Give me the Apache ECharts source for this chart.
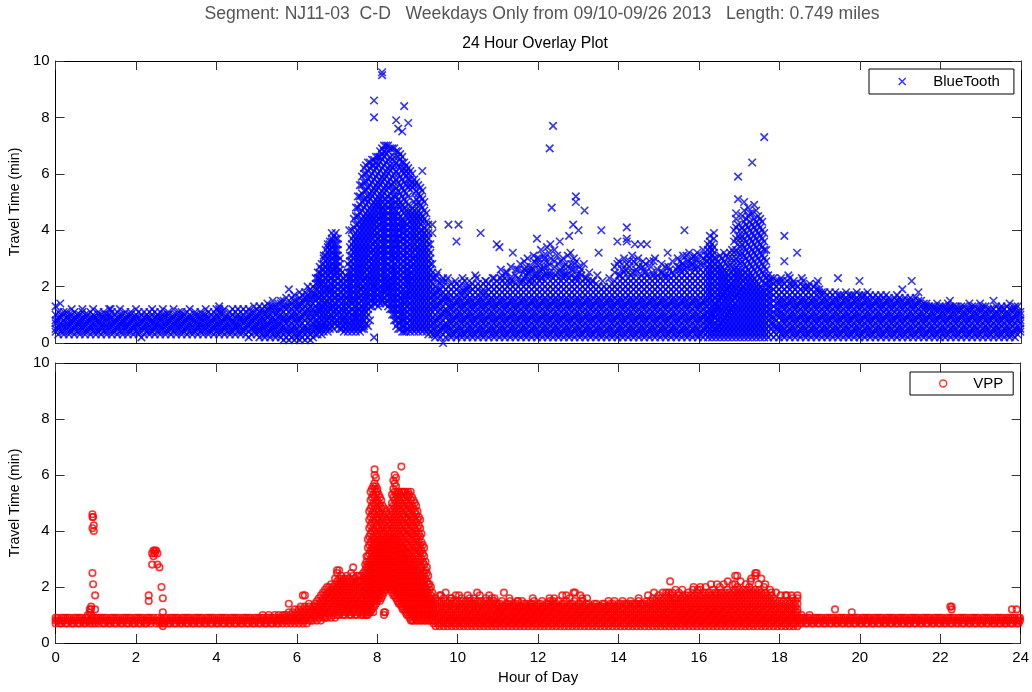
<!DOCTYPE html>
<html>
<head>
<meta charset="utf-8">
<script src="https://cdn.jsdelivr.net/npm/echarts@6/dist/echarts.min.js"></script>
<style>
  html, body { margin: 0; padding: 0; background: #fff; }
  #chart { width: 1032px; height: 692px; }
</style>
</head>
<body>
<div id="chart"></div>
<script>
// Readings tables: one row per time of day, "minute: travel times in tenths of a minute"

const titleText = 'Segment: NJ11-03  C-D   Weekdays Only from 09/10-09/26 2013   Length: 0.749 miles';
const subtitleText = '24 Hour Overlay Plot';
const hourTicks = [0, 2, 4, 6, 8, 10, 12, 14, 16, 18, 20, 22, 24];
const minuteTicks = [0, 2, 4, 6, 8, 10];

// ---- BlueTooth ----
const blueNight = `
0: 4 5 7 8 10 13
4: 3 5 6 8 9 11
7: 14
8: 4 6 7 9 10
12: 3 4 6 8 10 11
16: 5 6 7 9 11
20: 3 4 6 7 9 10
24: 4 5 7 8 10 12
28: 3 5 6 8 9 11
32: 4 6 7 9 10
36: 3 4 6 7 8 10
40: 5 6 8 9 11 12
44: 3 4 6 7 9 10
48: 4 5 7 8 10
52: 3 5 6 8 9 11
56: 4 6 7 9 10 12
60: 3 4 6 8 9
64: 4 5 7 8 10 11
68: 3 5 6 7 9 10
72: 4 6 7 9 11
76: 3 4 6 8 9 10
80: 5 6 7 9 10 12
82: 12
84: 3 4 6 7 9 11
88: 4 5 7 8 10
92: 3 5 6 8 9 11
96: 4 6 7 9 10 12
100: 3 4 6 7 8 10
104: 5 6 8 9 11
108: 3 4 6 7 9 10
112: 4 5 7 8 10 11
116: 3 5 6 8 9
120: 4 6 7 9 10 12
124: 3 4 6 7 9 11
128: 2 5 7 8 10
132: 3 5 6 8 9 11
136: 4 6 7 9 10
140: 3 4 6 8 9 11
144: 4 5 7 8 10 12
148: 3 5 6 7 9 11
152: 4 6 7 9 10
156: 3 4 6 8 9 11
160: 5 6 7 9 10 12
164: 3 4 6 7 9 10
168: 4 5 7 8 10 11
172: 3 5 6 8 9
176: 4 6 7 9 10 12
180: 3 4 6 7 8 10
184: 5 6 8 9 11
188: 3 4 6 7 9 10 11
192: 4 5 7 8 10
196: 3 5 6 8 9 11
200: 4 6 7 9 10 12
204: 3 4 6 8 9
208: 4 5 7 8 10 11
212: 3 5 6 7 9 10
216: 4 6 7 9 11
220: 3 4 6 8 9 10
224: 5 6 7 9 10 12
228: 3 4 6 7 9 11
232: 4 5 7 8 10
236: 3 5 6 8 9 11
240: 4 6 7 9 10 12
244: 3 4 6 7 9 11 12 13
248: 4 5 7 8 10 11
252: 3 5 6 8 9 12
256: 4 6 7 9 10
260: 3 4 6 8 9 11
264: 4 5 7 8 10 12
268: 3 5 6 7 9 11
272: 4 6 7 9 10 12
276: 3 4 6 8 9 11
280: 4 5 7 8 10 12
284: 3 5 6 8 9 11
288: 2 4 6 7 9 10 12
292: 3 5 7 8 10 11
296: 4 5 6 8 9 11 13
300: 3 4 6 7 9 10 12
304: 2 4 5 7 8 10 11 13
308: 3 5 6 8 9 11 12
312: 2 3 5 6 8 10 11 13
316: 3 4 6 7 9 10 12 14
320: 2 4 5 7 8 10 12 13
324: 3 5 6 8 9 11 13 15
328: 2 3 5 6 8 10 11 13
332: 3 4 6 7 9 11 12 14
336: 2 4 5 7 9 10 12 14 15
340: 1 3 5 6 8 9 11 13 15
344: 2 4 5 7 8 10 12 13 16
348: 1 3 4 6 8 9 11 13 14 19
352: 2 4 5 7 9 10 12 14 16
356: 1 3 5 6 8 10 11 13 15 17
360: 2 3 5 7 8 10 12 13 15
364: 1 3 4 6 8 9 11 13 14 16 18
368: 2 4 5 7 9 10 12 14 15 17
372: 1 3 5 6 8 10 11 13 15 16 18
376: 2 4 5 7 9 11 12 14 16 17 20
380: 1 3 4 6 8 9 11 13 14 16 18 19
384: 2 4 6 7 9 11 12 14 16 17 20
388: 3 5 6 8 10 11 13 15 17 19 21 23
`;
const blueMorning = `
391: 3 5 7 8 10 12 14 16 17 19 21 23 25
394: 4 5 7 9 11 12 14 16 18 20 21 23 25 27
397: 3 5 6 8 10 12 13 15 17 19 21 22 24 26 28
400: 4 6 7 9 11 13 14 16 18 20 22 24 26 28 30 31
403: 5 6 8 10 12 14 15 17 19 21 23 25 27 29 31 33
406: 4 6 8 9 11 13 15 17 19 20 22 24 26 28 30 32 34 35
409: 5 7 9 10 12 14 16 18 19 21 23 25 27 29 31 33 35 36
412: 6 8 10 12 13 15 17 19 21 23 25 26 28 30 32 34 36 37 39
415: 5 7 9 11 13 14 16 18 20 22 24 26 27 29 31 33 35 38
418: 7 8 10 12 14 16 18 20 22 24 25 27 29 31 33 35 37 39
421: 6 8 10 11 13 15 17 19 21 23 25 27 29 31 33 35 37
424: 5 7 9 11 13 15 16 18 20 22 24 26 28 30
427: 5 6 8 10 12 14 16 18 20 22 25
430: 4 6 8 9 11 13 15 17 19 21 23
433: 5 7 8 10 12 14 16 18 20 22 24
436: 4 6 8 10 11 13 15 17 19 21 23 25 28
438: 40
439: 5 7 9 11 13 15 17 19 21 23 25 27 29 31 34
442: 4 6 8 10 12 14 15 17 19 21 23 25 27 29 31 33 35 37 40
445: 5 7 9 11 13 15 16 18 20 22 24 26 28 30 32 34 36 38 41 44
448: 4 6 8 9 11 13 15 17 19 21 23 25 27 29 31 33 35 37 39 42 45 48
451: 5 7 9 11 12 14 16 18 20 22 24 26 28 30 32 34 36 38 40 42 45 48 52
454: 4 6 8 10 12 14 16 17 19 21 23 25 27 29 31 33 35 37 39 41 43 46 49 52 56
457: 5 7 9 11 13 15 17 19 20 22 24 26 28 30 32 34 36 38 40 42 44 47 50 53 56 59
460: 5 6 8 10 12 14 16 18 20 22 23 25 27 29 31 33 35 37 39 41 43 45 48 51 54 57 60 62
463: 7 9 11 13 15 17 19 21 23 24 26 28 30 32 34 36 38 40 42 44 46 49 51 54 57 60 63
466: 6 10 12 14 16 18 20 22 24 26 27 29 31 33 35 37 39 41 43 45 47 50 52 55 58 61 64
469: 8 13 15 17 19 21 23 25 27 29 30 32 34 36 38 40 42 44 46 48 51 53 56 59 62 64
472: 13 15 16 18 20 22 24 26 28 30 32 33 35 37 39 41 43 45 47 49 52 54 57 60 63 65
475: 2 14 16 18 20 21 23 25 27 29 31 33 35 36 38 40 42 44 46 48 50 53 55 58 61 63 65 80 86
478: 14 16 18 20 22 24 26 28 30 32 34 36 38 39 41 43 45 47 49 51 54 56 59 62 64 66
481: 13 15 17 19 21 23 25 27 29 31 33 35 37 39 41 42 44 46 48 50 52 55 57 60 63 66
484: 14 16 18 20 22 24 26 28 30 32 34 36 38 40 42 44 45 47 49 51 53 56 58 61 64 66 68
487: 15 17 19 21 23 25 27 29 31 33 35 37 39 41 43 45 47 48 50 52 54 57 59 62 65 67 69 95 96
490: 14 16 18 19 21 23 25 27 29 31 33 35 37 39 41 43 45 47 49 51 53 55 58 60 63 66 68 70
493: 14 15 17 19 21 23 25 27 29 31 33 35 37 39 41 43 45 47 49 51 54 56 59 61 64 67 70
496: 13 15 17 19 20 22 24 26 28 30 32 34 36 38 40 42 44 46 48 50 52 55 57 60 62 65 68 70
499: 12 14 16 18 20 22 23 25 27 29 31 33 35 37 39 41 43 45 47 49 51 53 56 58 61 63 66 69
502: 10 12 14 16 18 20 22 24 26 27 29 31 33 35 37 39 41 43 45 47 49 51 54 56 59 62 65 69
505: 8 10 12 14 16 18 20 22 24 26 28 30 31 33 35 37 39 41 43 45 47 49 52 54 57 60 63 66 69
508: 6 8 10 12 14 16 18 20 22 24 26 28 30 32 34 35 37 39 41 43 45 47 50 52 55 58 61 64 68 79
511: 5 7 9 11 13 15 17 19 21 23 25 27 29 31 33 35 37 38 40 42 44 46 49 51 54 57 60 63 66 68 76
514: 5 7 8 10 12 14 16 18 20 22 24 26 28 30 32 34 36 38 40 41 43 45 48 50 53 56 59 62 65 67
517: 4 6 8 10 11 13 15 17 19 21 23 25 27 29 31 33 35 37 39 41 43 44 47 49 52 55 58 61 64 66 75
520: 4 6 8 10 12 14 15 17 19 21 23 25 27 29 31 33 35 37 39 41 43 46 48 51 54 57 60 62 64 84
523: 4 5 7 9 11 13 15 17 18 20 22 24 26 28 30 32 34 36 38 40 42 45 47 50 53 56 59 61 63
526: 5 7 9 11 13 15 17 19 21 22 24 26 28 30 32 34 36 38 40 42 44 46 49 52 55 58 60 62 78
529: 4 6 8 10 12 14 16 18 20 22 24 25 27 29 31 33 35 37 39 41 43 45 47 56 58 61
532: 5 7 9 11 13 15 17 19 21 23 25 27 28 30 32 34 36 38 40 42 44 46 48 55 57 60
535: 4 6 8 10 12 14 16 18 20 22 24 26 28 30 31 33 35 37 39 41 43 45 47 50 53 56 58
538: 5 7 9 11 13 15 17 19 21 23 25 27 29 31 33 34 36 38 40 42 44 46 49 51 54 57
541: 4 6 8 10 12 14 16 18 20 22 24 26 28 30 32 34 36 37 39 41 43 45 47 50 53 56
544: 5 7 9 11 13 15 17 19 21 23 25 27 29 31 33 35 37 39 40 42 44 46 49 52 55
547: 4 6 8 10 12 14 16 18 20 22 24 26 28 30 32 34 36 38 40 43 45 48 51 54 61
550: 5 7 9 11 13 15 17 19 21 23 25 27 29 31 33 35 37 39 41 44 47 50
553: 4 6 8 10 12 14 16 18 20 22 24 26 28 30 32 34 36 38 40 43 46
556: 3 5 7 9 11 13 15 17 19 21 23 25 27 29 31 33 35 37 39 42
559: 4 6 8 10 12 14 16 18 20 22 24 26 28 30 32 35
562: 3 5 7 9 11 13 15 17 19 21 23 25 28 39 42
`;
const blueDay = `
566: 2 3 5 7 8 10 12 13 15 17 18 20 23
568: 24
570: 3 4 6 8 9 11 13 14 16 18 19 22 25
574: 2 4 5 7 9 10 12 14 15 17 19 21
576: 22
578: 0 3 5 6 8 10 11 13 15 16 18 20 23
582: 2 4 6 7 9 11 12 14 16 17 19 22
585: 23
586: 3 5 6 8 10 11 13 15 16 18 20 42
590: 2 3 5 7 8 10 12 13 15 17 19 21
594: 3 4 6 8 9 11 13 14 16 18 20
596: 22
598: 2 4 5 7 9 10 12 14 15 17 19 21 36
601: 42
602: 3 5 6 8 10 11 13 15 16 18 20
606: 2 3 5 7 8 10 12 13 15 17 18 21
607: 23
610: 3 4 6 8 9 11 13 14 16 18 19 22
614: 2 4 5 7 9 10 12 14 15 17 19 20
617: 22
618: 3 5 6 8 10 11 13 15 16 18 20
622: 2 3 5 7 8 10 12 13 15 17 19 21
626: 3 4 6 8 9 11 13 14 16 18 20 24
628: 23
630: 2 4 5 7 9 10 12 14 15 17 19 21
634: 3 5 6 8 10 11 13 15 16 18 20 39
638: 2 3 5 7 8 10 12 13 15 17 18 21
641: 22
642: 3 4 6 8 9 11 13 14 16 18 20 22
646: 2 4 5 7 9 10 12 14 15 17 19 21
650: 3 5 6 8 10 11 13 15 16 18 20
652: 23
654: 2 3 5 7 8 10 12 13 15 17 19 21 23
658: 3 4 6 8 9 11 13 14 16 18 20 22 35
662: 2 4 5 7 9 10 12 14 15 17 19 21 34
664: 23 26
666: 3 5 6 8 10 11 13 15 16 18 20 22 24
670: 2 3 5 7 8 10 12 13 15 17 19 21 23
672: 25
674: 3 4 6 8 9 11 13 14 16 18 20 22 25
678: 2 4 5 7 9 10 12 14 15 17 19 21 23
679: 22 27
682: 3 5 6 8 10 11 13 15 16 18 20 22 32
686: 2 3 5 7 8 10 12 13 15 17 19 21 24
687: 26
690: 3 4 6 8 9 11 13 14 16 18 20 23 26
693: 28
694: 2 4 5 7 9 10 12 14 15 17 19 21 22
698: 3 5 6 8 10 11 13 15 16 18 20 22 25
699: 23 26 29
702: 2 3 5 7 8 10 12 13 15 17 19 21 24 27
704: 25 30
706: 3 4 6 8 9 11 13 14 16 18 20 22 25
709: 22 27
710: 2 4 5 7 9 10 12 14 15 17 19 21 23 26
713: 26 31
714: 3 5 6 8 10 11 13 15 16 18 20 22 24 29
717: 24 28
718: 2 3 5 7 8 10 12 13 15 17 19 21 23 30 37
721: 30 26
722: 3 4 6 8 9 11 13 14 16 18 20 22 25 28
724: 23 33
726: 2 4 5 7 9 10 12 14 15 17 19 21 23 26
728: 27 31
730: 3 5 6 8 10 11 13 15 16 18 20 22 24 30
731: 25 29
733: 34
734: 2 3 5 7 8 10 12 13 15 17 19 21 24 27
736: 28 32
737: 69
738: 3 4 6 8 9 11 13 14 16 18 20 22 25 35
739: 24 30
740: 48
742: 2 4 5 7 9 10 12 14 15 17 19 21 23 77
744: 27 29 33
746: 3 5 6 8 10 11 13 15 16 18 20 22 24
748: 25 31
750: 2 3 5 7 8 10 12 13 15 17 19 21 23 28
752: 36
753: 26 29
754: 3 4 6 8 9 11 13 14 16 18 20 22 25
757: 23 30
758: 2 4 5 7 9 10 12 14 15 17 19 21 24 27
761: 28 25
762: 3 5 6 8 10 11 13 15 16 18 20 22 24
764: 31 27
766: 2 3 5 7 8 10 12 13 15 17 19 21 23 38
768: 32
769: 24 28
770: 3 4 6 8 9 11 13 14 16 18 20 22 26
772: 42
773: 26 30
774: 2 4 5 7 9 10 12 14 15 17 19 21 23 28
776: 50 52
777: 23 29
778: 3 5 6 8 10 11 13 15 16 18 20 22 24
780: 40
781: 27
782: 2 3 5 7 8 10 12 13 15 17 19 21 25
784: 24 26
786: 3 4 6 8 9 11 13 14 16 18 20 22
788: 28
789: 47
790: 2 4 5 7 9 10 12 14 15 17 19 21 23
792: 23
794: 3 5 6 8 10 11 13 15 16 18 20 22
796: 25
798: 2 3 5 7 8 10 12 13 15 17 19 21
800: 22
802: 3 4 6 8 9 11 13 14 16 18 20 22
806: 2 4 5 7 9 10 12 14 15 17 19 21
808: 24
810: 3 5 6 8 10 11 13 15 16 18 20 32
814: 2 3 5 7 8 10 12 13 15 17 19 40
816: 22
818: 3 4 6 8 9 11 13 14 16 18 20
822: 2 4 5 7 9 10 12 14 15 17 19
826: 3 5 6 8 10 11 13 15 16 18 20 23
830: 2 3 5 7 8 10 12 13 15 17 19 21
834: 3 4 6 8 9 11 13 14 16 18 20 22 25 27
838: 2 4 5 7 9 10 12 14 15 17 19 21 28 36
840: 24 29
842: 3 5 6 8 10 11 13 15 16 18 20 22 24
845: 26 28
846: 2 3 5 7 8 10 12 13 15 17 19 21 23
848: 30 25
850: 3 4 6 8 9 11 13 14 16 18 20 22 26
852: 28 36 37 41
854: 2 4 5 7 9 10 12 14 15 17 19 21 23 25
856: 27 29
858: 3 5 6 8 10 11 13 15 16 18 20 22 24
860: 25 31
862: 2 3 5 7 8 10 12 13 15 17 19 21 23 29
864: 35
866: 3 4 6 8 9 11 13 14 16 18 20 22 25 28 26
869: 30
870: 2 4 5 7 9 10 12 14 15 17 19 21 23 27
873: 35
874: 3 5 6 8 10 11 13 15 16 18 20 22 24
876: 27 29
878: 2 3 5 7 8 10 12 13 15 17 19 21 23 26
880: 25 28
882: 3 4 6 8 9 11 13 14 16 18 20 22 24 35
886: 2 4 5 7 9 10 12 14 15 17 19 21 23 29
888: 27
890: 3 5 6 8 10 11 13 15 16 18 20 22 25
892: 24 29
894: 2 3 5 7 8 10 12 13 15 17 19 21 23 30
898: 3 4 6 8 9 11 13 14 16 18 20 22 24 26
902: 2 4 5 7 9 10 12 14 15 17 19 21 23
904: 25 28
906: 3 5 6 8 10 11 13 15 16 18 20 22 25
909: 24 27
910: 2 3 5 7 8 10 12 13 15 17 19 21 23
913: 32
914: 3 4 6 8 9 11 13 14 16 18 20 22 24 27
916: 26
918: 2 4 5 7 9 10 12 14 15 17 19 21 23
920: 25 29
922: 3 5 6 8 10 11 13 15 16 18 20 22 24
926: 2 3 5 7 8 10 12 13 15 17 19 21 23 26
928: 27 30
930: 3 4 6 8 9 11 13 14 16 18 20 22 24 27
932: 26 29
934: 2 4 5 7 9 10 12 14 15 17 19 21 23 25 28
936: 28 31
938: 3 5 6 8 10 11 13 15 16 18 20 22 24 26 40
941: 27 31
942: 2 3 5 7 8 10 12 13 15 17 19 21 23 25 29
945: 29 32
946: 3 4 6 8 9 11 13 14 16 18 20 22 24 27
949: 28 30
950: 2 4 5 7 9 10 12 14 15 17 19 21 23 25 28
953: 27 31
954: 3 5 6 8 10 11 13 15 16 18 20 22 24 26 30
957: 29 32
958: 2 3 5 7 8 10 12 13 15 17 19 21 23 25 27
962: 3 4 6 8 9 11 13 14 16 18 20 22 24 26 28 31
966: 2 4 5 7 9 10 12 14 15 17 19 21 23 25 28 30 33
970: 3 5 6 8 10 11 13 15 16 18 20 22 24 26 29 31
973: 2 4 6 8 9 11 13 15 17 19 21 23 25 27 29 31 33 35
976: 3 5 7 8 10 12 14 16 18 20 22 24 26 28 30 32 34 36 38
979: 2 4 6 8 10 11 13 15 17 19 21 23 25 27 29 31 33 35
982: 3 5 7 9 10 12 14 16 18 20 22 24 26 28 30 32 34 37 39
985: 2 4 5 7 9 11 13 14 16 18 20 22 24 26 28 30
988: 3 5 6 8 10 12 13 15 17 19 21 23 25 27 29
991: 2 4 6 7 9 11 13 15 16 18 20 22 24 26 28 31
994: 3 5 7 8 10 12 14 16 17 19 21 23 25 27 30
997: 2 4 6 8 9 11 13 15 17 18 20 22 24 26 29 32
1000: 3 5 7 9 10 12 14 16 18 19 21 23 25 28 31
1003: 2 4 6 8 10 11 13 15 17 19 20 22 24 27 30
1006: 3 5 7 9 11 12 14 16 18 20 21 23 25 28 32
1009: 2 4 6 8 10 12 13 15 17 19 21 23 25 27 30 33
1012: 3 5 7 9 11 13 14 16 18 20 22 24 26 29 32 36 40
1015: 2 4 6 8 10 12 14 16 17 19 21 23 25 27 30 33 37 41 44 46
1018: 3 5 7 9 11 13 15 17 18 20 22 24 26 29 32 35 38 42 51 59
1021: 2 4 6 8 10 12 14 16 18 19 21 23 25 28 31 34 37 40
1024: 3 5 7 9 11 13 15 17 19 20 22 24 26 29 32 35 38 41 45
1027: 2 4 6 8 10 12 14 16 18 20 22 23 25 28 31 34 37 40 43 47 50
1030: 3 5 7 9 11 13 15 17 19 21 23 25 27 30 33 36 39 42 44
1033: 2 4 6 8 10 12 14 16 18 20 22 24 26 29 32 35 38 41 45 48
1036: 3 5 7 9 11 13 15 17 19 21 23 25 28 31 34 37 40 43 46
1039: 2 4 6 8 10 12 14 16 18 20 22 24 27 30 33 36 39 42 46 64
1042: 3 5 7 9 11 13 15 17 19 21 23 26 29 32 35 38 41 44 49
1045: 2 4 6 8 10 12 14 16 18 20 22 25 28 31 34 37 40 43 47
1048: 3 5 7 9 11 13 15 17 19 21 24 27 30 33 36 39 42 45
1051: 2 4 6 8 10 12 14 16 18 20 23 26 29 32 35 38 41 44
1054: 3 5 7 9 11 13 15 17 19 22 25 28 31 34 37 40 43
1057: 2 4 6 8 10 12 14 16 18 21 24 27 30 33 36 39 73
1060: 3 5 7 9 11 13 15 17 19 21 23 26 29 33
1063: 2 4 6 8 10 12 14 16 18 20 22 24
1067: 3 5 7 9 10 12 14 16 18 20 22 23
1071: 2 4 6 7 9 11 13 15 17 19 21 23
1075: 3 5 6 8 10 12 14 16 18 20 22
`;
const blueEvening = `
1079: 2 4 5 7 9 10 12 14 15 17 19 21 22
1082: 23
1083: 3 5 6 8 10 11 13 15 16 18 20 22
1087: 2 3 5 7 8 10 12 13 15 17 19 21 29 38
1091: 3 4 6 8 9 11 13 14 16 18 20 22
1093: 24
1095: 2 4 5 7 9 10 12 14 15 17 19 21 23
1099: 3 5 6 8 10 11 13 15 16 18 20 21
1101: 22
1103: 2 3 5 7 8 10 12 13 15 17 19 21
1106: 32
1107: 3 4 6 8 9 11 13 14 16 18 20
1111: 2 4 5 7 9 10 12 14 15 17 19 21
1113: 23
1115: 3 5 6 8 10 11 13 15 16 18 20 22
1119: 2 3 5 7 8 10 12 13 15 17 19 20
1123: 3 4 6 8 9 11 13 14 16 18 20
1125: 21
1127: 2 4 5 7 9 10 12 14 15 17 19
1131: 3 5 6 8 10 11 13 15 16 18 20
1135: 2 3 5 7 8 10 12 13 15 17 19 21
1137: 22
1139: 3 4 6 8 9 11 13 14 16 18 19
1143: 2 4 5 7 9 10 12 14 15 17 18
1147: 3 5 6 8 10 11 13 15 16 18
1151: 2 3 5 7 8 10 12 13 15 17
1155: 3 4 6 8 9 11 13 14 16 18
1159: 2 4 5 7 9 10 12 14 15 17
1163: 3 5 6 8 10 11 13 15 16 18
1167: 2 3 5 7 8 10 12 13 15 17 23
1171: 3 4 6 8 9 11 13 14 16 17
1175: 2 4 5 7 9 10 12 14 15 17
1179: 3 5 6 8 10 11 13 15 16 18
1183: 2 3 5 7 8 10 12 13 15 17
1187: 3 4 6 8 9 11 13 14 16 17
1191: 2 4 5 7 9 10 12 14 15 17
1195: 3 5 6 8 10 11 13 15 16 18
1199: 2 3 5 7 8 10 12 13 15 17 22
1203: 3 4 6 8 9 11 13 14 16 17
1207: 2 4 5 7 9 10 12 14 15 17
1211: 3 5 6 8 10 11 13 15 16 18
1215: 2 3 5 7 8 10 12 13 15 17
1219: 3 4 6 8 9 11 13 14 16
1223: 2 4 5 7 9 10 12 14 15 17
1227: 3 5 6 8 10 11 13 15 16
1231: 2 3 5 7 8 10 12 13 15 17
1235: 3 4 6 8 9 11 13 14 16
1239: 2 4 5 7 9 10 12 14 15 17
1243: 3 5 6 8 10 11 13 15 16
1247: 2 3 5 7 8 10 12 13 15
1251: 3 4 6 8 9 11 13 14 16
1255: 2 4 5 7 9 10 12 14 15 17
1259: 3 5 6 8 10 11 13 15 16
1263: 2 3 5 7 8 10 12 13 15 19
1267: 3 4 6 8 9 11 13 14 16
1271: 2 4 5 7 9 10 12 14 15
1275: 3 5 6 8 10 11 13 15 16
1277: 22
1279: 2 3 5 7 8 10 12 13 15
1283: 3 4 6 8 9 11 13 14 16
1287: 2 4 5 7 9 10 12 14 15 18
1291: 3 5 6 8 10 11 13 15
1295: 2 3 5 7 8 10 12 13 14
1299: 3 4 6 8 9 11 13 14
1303: 2 4 5 7 9 10 12 13
1307: 3 5 6 8 10 11 13
1311: 2 3 5 7 8 10 12 13
1315: 3 4 6 8 9 11 12 14
1319: 2 4 5 7 9 10 12 13
1323: 3 5 6 8 10 11 13
1327: 2 3 5 7 8 10 12 13
1331: 3 4 6 8 9 11 12 14
1334: 15
1335: 2 4 5 7 9 10 12 13
1339: 3 5 6 8 10 11 13
1343: 2 3 5 7 8 10 12 13
1347: 3 4 6 8 9 11 12
1351: 2 4 5 7 9 10 12 13
1355: 3 5 6 8 10 11 13
1359: 2 3 5 7 8 10 12
1363: 3 4 6 8 9 11 12 14
1367: 2 4 5 7 9 10 12 13
1371: 3 5 6 8 10 11 13
1375: 2 3 5 7 8 10 12
1379: 3 4 6 8 9 11 12 14
1383: 2 4 5 7 9 10 12 13
1387: 3 5 6 8 10 11 13
1391: 2 3 5 7 8 10 12
1395: 3 4 6 8 9 11 12
1399: 2 4 5 7 9 10 12 15
1403: 3 5 6 8 10 11 13
1407: 2 3 5 7 8 10 12
1411: 3 4 6 8 9 11 12 13
1415: 2 4 5 7 9 10 12
1419: 3 5 6 8 10 11 13
1423: 2 3 5 7 8 10 12 14
1427: 3 4 6 8 9 11 12
1431: 2 4 5 7 9 10 12 13
1435: 3 5 6 8 10 11 13
1439: 4 5 7 8 10 11
`;

// ---- VPP ----
const redNight = `
0: 7 8 9
3: 8 9
6: 7 8
9: 7 8 9
12: 8 9
15: 7 9
18: 7 8 9
21: 8 9
24: 7 8
27: 7 8 9
30: 8 9
33: 7 9
36: 7 8 9
39: 8 9
42: 7 8
45: 7 8 9
48: 8 9 10
51: 7 8 11 12
53: 8 10 12 13
55: 7 9 25 41 45 46
56: 21 45
57: 8 40 42
59: 7 9 12 17
61: 8 9
64: 7 8 9
67: 8 9
70: 7 9
73: 7 8 9
76: 8 9
79: 7 8
82: 7 8 9
85: 8 9
88: 7 9
91: 7 8 9
94: 8 9
97: 7 8
100: 7 8 9
103: 8 9
106: 7 9
109: 7 8 9
112: 8 9
115: 7 8
118: 7 8 9
121: 8 9
124: 7 9
127: 7 8 9
130: 8 9
133: 7 8
136: 7 8 9
139: 8 9 15 17
142: 7 8 9
144: 28 32
146: 8 9 31 33
148: 32 33
150: 7 8 33
152: 8 9 28 32
155: 7 8 27
158: 7 8 9 20
160: 6 8 11 16
162: 7 8 9
165: 8 9
168: 7 8
171: 7 8 9
174: 8 9
177: 7 9
180: 7 8 9
183: 8 9
186: 7 8
189: 7 8 9
192: 8 9
195: 7 9
198: 7 8 9
201: 8 9
204: 7 8
207: 7 8 9
210: 8 9
213: 7 9
216: 7 8 9
219: 8 9
222: 7 8
225: 7 8 9
228: 8 9
231: 7 9
234: 7 8 9
237: 8 9
240: 7 8
243: 7 8 9
246: 8 9
249: 7 9
252: 7 8 9
255: 8 9
258: 7 8
261: 7 8 9
264: 8 9
267: 7 9
270: 7 8 9
273: 8 9
276: 7 8
279: 7 8 9
282: 8 9
285: 7 9
288: 7 8 9
291: 8 9
294: 7 8
297: 7 8 9
300: 8 9
303: 7 9
306: 7 8 9
309: 8 9 10
312: 7 8
315: 7 8 9
318: 8 9 10
321: 7 9
324: 7 8 9
327: 8 9 10
330: 7 8
333: 7 8 9 10
336: 8 9
339: 7 9 10
342: 8 9 10
`;
const redMorning = `
345: 7 8 10
348: 8 9 11 14
351: 7 9 10
354: 8 9 11
357: 7 8 10 12
360: 8 9 11
363: 7 9 10 12
366: 8 9 11 13
369: 7 8 10 12 17
372: 8 9 11 13 17
375: 7 9 10 12
378: 8 10 11 13 14
381: 8 9 11 12
384: 8 10 12 13
387: 9 10 11 13 14
390: 8 10 12 13 15
393: 9 11 12 14 16
396: 8 10 11 13 15 17
399: 9 11 12 14 16 18
402: 9 10 12 13 15 17 19
405: 9 11 13 14 16 18 20
408: 10 11 13 15 16 18 20
411: 9 11 12 14 16 17 19 21
414: 10 12 13 15 17 18 20
417: 9 11 13 14 16 18 19 21 23
420: 10 12 14 15 17 19 20 22 25 26
423: 10 11 13 15 16 18 20 21 23 26
426: 11 12 14 16 17 19 21 22 24
429: 10 12 13 15 17 18 20 22 23
432: 10 11 13 14 16 18 19 21 23
435: 11 12 14 15 17 19 20 22 24
438: 10 12 13 15 16 18 20 21 23
441: 10 11 13 14 16 17 19 21 22 25
444: 11 12 14 15 17 18 20 22 24 27
447: 10 12 13 15 16 18 20 21 23
450: 10 11 13 14 16 17 19 21 22 24
453: 11 12 14 15 17 19 20 22 24
456: 10 12 13 15 16 18 20 22 24
459: 10 11 13 14 16 18 19 21 23 25
462: 10 12 13 15 17 18 20 22 24 26 28
464: 10 11 13 15 17 19 21 23 25 27 29 31
466: 10 12 14 16 18 20 22 24 26 28 31 34 37
468: 11 13 15 17 19 21 23 25 27 29 32 35 38 41 44 47
470: 11 12 14 16 18 20 22 24 26 28 30 33 36 39 42 45 48 51 54
472: 12 14 16 18 20 22 24 26 28 30 32 34 37 40 43 46 49 52 55
474: 11 13 15 17 19 21 23 25 27 29 31 33 35 38 41 44 47 50 53 56
476: 13 15 17 19 21 23 25 27 29 31 33 35 37 40 43 46 49 52 55 57 60 62
478: 14 16 18 20 22 24 26 28 30 32 34 36 38 41 44 47 50 53 56 59
480: 15 17 19 21 23 25 27 29 31 33 35 37 39 42 45 48 51 54 55
482: 16 18 20 22 24 26 28 30 32 34 36 38 41 44 47 50 53
484: 15 17 19 21 23 25 27 29 31 33 35 37 40 43 46 49 52
486: 16 18 20 22 24 26 28 30 32 34 36 39 42 45 48 51
488: 17 19 21 23 25 27 29 31 33 35 37 40 43 46 49
490: 10 11 18 20 22 24 26 28 30 32 34 36 39 42 45 48
492: 11 19 21 23 25 27 29 31 33 35 37 40 43 46
494: 20 22 24 26 28 30 32 34 36 38 41 44 47
496: 21 23 25 27 29 31 33 35 37 39 41 44
498: 20 22 24 26 28 30 32 34 36 38 40 43 46
500: 19 21 23 25 27 29 31 33 35 37 39 42 45 48
502: 18 20 22 24 26 28 30 32 34 36 38 41 44 47 50 53
504: 17 19 21 23 25 27 29 31 33 35 37 40 43 46 49 52 55 58
506: 17 19 21 23 25 27 29 31 33 35 37 39 42 45 48 51 54 57 60
508: 16 18 20 22 24 26 28 30 32 34 36 38 41 44 47 50 53 56 59
510: 15 17 19 21 23 25 27 29 31 33 35 37 40 43 46 49 52 54
512: 14 16 18 20 22 24 26 28 30 32 34 36 39 42 45 48 51 54
514: 14 16 18 20 22 24 26 28 30 32 34 36 38 41 44 47 50 53
516: 13 15 17 19 21 23 25 27 29 31 33 35 37 40 43 46 49 52 54 63
518: 12 14 16 18 20 22 24 26 28 30 32 34 36 39 42 45 48 51 54
520: 12 14 16 18 20 22 24 26 28 30 32 34 37 40 43 46 49 52 54
522: 11 13 15 17 19 21 23 25 27 29 31 33 36 39 42 45 48 51 54
524: 10 12 14 16 18 20 22 24 26 28 30 32 35 38 41 44 47 50 53
526: 10 12 14 16 18 20 22 24 26 28 30 32 34 37 40 43 46 49 52 54
528: 9 11 13 15 17 19 21 23 25 27 29 31 34 37 40 43 46 49 53
530: 8 10 12 14 16 18 20 22 24 26 28 30 33 36 39 42 45 48 51 54
532: 8 10 12 14 16 18 20 22 24 26 28 31 34 37 40 43 46 49 52
534: 8 10 12 14 16 18 20 22 24 26 28 30 33 36 39 42 45 48 51
536: 9 11 13 15 17 19 21 23 25 27 29 32 35 38 41 44 47 50
538: 8 10 12 14 16 18 20 22 24 26 28 31 34 37 40 43 46 49
540: 8 10 12 14 16 18 20 22 24 26 29 32 35 38 41 44 47
542: 9 11 13 15 17 19 21 23 25 27 30 33 36 39 42 45
544: 8 10 12 14 16 18 20 22 24 26 29 32 35 38 41 44
546: 8 10 12 14 16 18 20 22 24 27 30 33 36 39
548: 9 11 13 15 17 19 21 23 26 29 32 35
550: 8 10 12 14 16 18 20 22 25 28 31 34
552: 8 10 12 14 16 18 20 23 26 29
554: 9 11 13 15 17 19 22 25 27
556: 8 10 12 14 16 18 21 24
558: 8 10 12 14 16 19 21
560: 9 11 13 15 17 20
562: 8 10 12 14 16 18
`;
const redDay = `
564: 7 8 10 11 13 15
567: 6 8 9 11 12 14 16
570: 7 9 10 12 13 15
573: 6 7 9 10 12 14 17
575: 17
576: 7 8 10 11 13 15
579: 6 8 9 11 12 14 16
582: 7 9 10 12 13 15 18
585: 6 7 9 10 12 14
588: 7 8 10 11 13 15
590: 16
591: 6 8 9 11 12 14 16
594: 7 9 10 12 13 15
597: 6 7 9 10 12 14 17
600: 7 8 10 11 13 15
602: 17
603: 6 8 9 11 12 14
606: 7 9 10 12 13 15 16
609: 6 7 9 10 12 14
612: 7 8 10 11 13 15
615: 6 8 9 11 12 14 17
618: 7 9 10 12 13 15 16
621: 6 7 9 10 12 14
624: 7 8 10 11 13 15 16
627: 6 8 9 11 12 14
629: 18
630: 7 9 10 12 13 15
633: 6 7 9 10 12 14 17
636: 7 8 10 11 13 15
639: 6 8 9 11 12 14
642: 7 9 10 12 13 15 16
645: 6 7 9 10 12 14
647: 17
648: 7 8 10 11 13 15
651: 6 8 9 11 12 14 16
654: 7 9 10 12 13 15
655: 16
657: 6 7 9 10 12 14
660: 7 8 10 11 13 14
663: 6 8 9 11 12 14
666: 7 9 10 12 13 15
669: 6 7 9 10 12 13 18
672: 7 8 10 11 13 14
675: 6 8 9 11 12 14
677: 16
678: 7 9 10 12 13 15
681: 6 7 9 10 12 13
684: 7 8 10 11 13 14
687: 6 8 9 11 12 14
689: 15
690: 7 9 10 12 13 15
693: 6 7 9 10 12 13
696: 7 8 10 11 13 15
699: 6 8 9 11 12 14
702: 7 9 10 12 13 14
705: 6 7 9 10 12 13
708: 7 8 10 11 13 14
711: 6 8 9 11 12 14
712: 16
714: 7 9 10 12 13 15
717: 6 7 9 10 12 13
720: 7 8 10 11 13 14
723: 6 8 9 11 12 14
726: 7 9 10 12 13 15
729: 6 7 9 10 12 13
732: 7 8 10 11 13 14
735: 6 8 9 11 12 14
737: 16
738: 7 9 10 12 13 15
741: 6 7 9 10 12 13
742: 15
744: 7 8 10 11 13 14 16
747: 6 8 9 11 12 14
750: 7 9 10 12 13 15
753: 6 7 9 10 12 13
756: 7 8 10 11 13 14 17
759: 6 8 9 11 12 14
762: 7 9 10 12 13 15 17
765: 6 7 9 10 12 13
767: 16
768: 7 8 10 11 13 14
771: 6 8 9 11 12 14
773: 18
774: 7 9 10 12 13 15
775: 18
777: 6 7 9 10 12 13
780: 7 8 10 11 13 14
783: 6 8 9 11 12 14 17
786: 7 9 10 12 13 15 16
789: 6 7 9 10 12 13
792: 7 8 10 11 13 14
793: 16
795: 6 8 9 11 12 14
798: 7 9 10 12 13
801: 6 7 9 10 12 13
804: 7 8 10 11 13 14
807: 6 8 9 11 12 14
810: 7 9 10 12 13
813: 6 7 9 10 12 13
816: 7 8 10 11 13 14
819: 6 8 9 11 12 14
822: 7 9 10 12 13
825: 6 7 9 10 12 13 15
828: 7 8 10 11 13 14
831: 6 8 9 11 12 14
834: 7 9 10 12 13 15
837: 6 7 9 10 12 13
840: 7 8 10 11 13 14
843: 6 8 9 11 12 14
846: 7 9 10 12 13 15
849: 6 7 9 10 12 14
852: 7 8 10 11 13 14
855: 6 8 9 11 12 14
858: 7 9 10 12 13 15
861: 6 7 9 10 12 14
864: 7 8 10 11 13 14
867: 6 8 9 11 12 14
870: 7 9 10 12 13 15 16
873: 6 7 9 10 12 14
876: 7 8 10 11 13 14
879: 6 8 9 11 12 14
882: 7 9 10 12 13 15
884: 17
885: 6 7 9 10 12 14
888: 7 8 10 11 13 15
891: 6 8 9 11 12 14 16
893: 18
894: 7 9 10 12 13 15
897: 6 7 9 10 12 14 16
900: 7 8 10 11 13 15 17
903: 6 8 9 11 12 14 16
906: 7 9 10 12 13 15 18
909: 6 7 9 10 12 14 16
911: 18
912: 7 8 10 11 13 15 17
915: 6 8 9 11 12 14 16 18
917: 22
918: 7 9 10 12 13 15 17
920: 18
921: 6 7 9 10 12 14 16
924: 7 8 10 11 13 15 16
925: 19
927: 6 8 9 11 12 14 16
930: 7 9 10 12 13 15 17 18
933: 6 7 9 10 12 14 16
935: 19
936: 7 8 10 11 13 15 17
939: 6 8 9 11 12 14 16
942: 7 9 10 12 13 15 17
944: 18
945: 6 7 9 10 12 14 16
948: 7 8 10 11 13 15 17
951: 6 8 9 11 12 14 16 19
952: 20
954: 7 9 10 12 13 15 17
957: 6 7 9 10 12 14 16 18
958: 19
960: 7 8 10 11 13 15 17
962: 19 20
963: 6 8 9 11 12 14 16
966: 7 9 10 12 13 15 17
969: 6 7 9 10 12 14 16 18
970: 20
972: 7 8 10 11 13 15 17
975: 6 8 9 11 12 14 16 18
978: 7 9 10 12 13 15 17 21
981: 6 7 9 10 12 14 16 19
984: 7 8 10 11 13 15 17 18
987: 6 8 9 11 12 14 16 18 21
990: 7 9 10 12 13 15 17
991: 20
993: 6 7 9 10 12 14 16 18
996: 7 8 10 11 13 15 17
997: 21
999: 6 8 9 11 12 14 16 18
1002: 7 9 10 12 13 15 17 19
1003: 22
1005: 6 7 9 10 12 14 16 18
1008: 7 8 10 11 13 15 17
1010: 21
1011: 6 8 9 11 12 14 16 18
1014: 7 9 10 12 13 15 17 19 21 24
1017: 6 7 9 10 12 14 16 18 20 24
1020: 7 8 10 11 13 15 17 19
1022: 22
1023: 6 8 9 11 12 14 16 18
1026: 7 9 10 12 13 15 17 19
1029: 6 7 9 10 12 14 16 18
1030: 21
1032: 7 8 10 11 13 15 17 19
1035: 6 8 9 11 12 14 16 18 20
1037: 22
1038: 7 9 10 12 13 15 17 19 23
1041: 6 7 9 10 12 14 16 18
1044: 7 8 10 11 13 15 17 19 24 25
1046: 25
1047: 6 8 9 11 12 14 16 18
1049: 21
1050: 7 9 10 12 13 15 17 19
1053: 6 7 9 10 12 14 16 18 23
1056: 7 8 10 11 13 15 17
1057: 20
1059: 6 8 9 11 12 14 16 18 21
1062: 7 9 10 12 13 15 17
1065: 6 7 9 10 12 14 16
1066: 19
1068: 7 8 10 11 13 15 17 18
1071: 6 8 9 11 12 14 16
1074: 7 9 10 12 13 15
1075: 18
1077: 6 7 9 10 12 14
1080: 7 8 10 11 13 15
1082: 17
1083: 6 8 9 11 12 14
1086: 7 9 10 12 13 15
1089: 6 7 9 10 12 14 17
1091: 17
1092: 7 8 10 11 13 15
1095: 6 8 9 11 12 14
1098: 7 9 10 12 13 15 17
1100: 16
1101: 6 7 9 10 12 14
1104: 7 8 10 11 13 15
1107: 6 8 9 11 12 14 16 17
`;
const redEvening = `
1110: 7 8 9
1113: 7 9 10
1116: 8 9
1119: 7 8 9
1122: 7 9
1125: 8 9 10
1128: 7 8
1131: 7 8 9
1134: 8 9
1137: 7 9
1140: 7 8 9
1143: 8 9
1146: 7 8
1149: 7 8 9
1152: 8 9
1155: 7 9
1158: 7 8 9
1161: 8 9
1163: 12
1164: 7 8
1167: 7 8 9
1170: 8 9
1173: 7 9
1176: 7 8 9
1179: 8 9
1182: 7 8
1185: 7 8 9
1188: 8 9 11
1191: 7 9
1194: 7 8 9
1197: 8 9
1200: 7 8
1203: 7 8 9
1206: 8 9
1209: 7 9
1212: 7 8 9
1215: 8 9
1218: 7 8
1221: 7 8 9
1224: 8 9
1227: 7 9
1230: 7 8 9
1233: 8 9
1236: 7 8
1239: 7 8 9
1242: 8 9
1245: 7 9
1248: 7 8 9
1251: 8 9
1254: 7 8
1257: 7 8 9
1260: 8 9
1263: 7 9
1266: 7 8 9
1269: 8 9
1272: 7 8
1275: 7 8 9
1278: 8 9
1281: 7 9
1284: 7 8 9
1287: 8 9
1290: 7 8
1293: 7 8 9
1296: 8 9
1299: 7 9
1302: 7 8 9
1305: 8 9
1308: 7 8
1311: 7 8 9
1314: 8 9
1317: 7 9
1320: 7 8 9
1323: 8 9
1326: 7 8
1329: 7 8 9
1332: 8 9
1335: 7 9 13
1337: 12 13
1338: 7 8 9
1341: 8 9
1344: 7 8
1347: 7 8 9
1350: 8 9
1353: 7 9
1356: 7 8 9
1359: 8 9
1362: 7 8
1365: 7 8 9
1368: 8 9
1371: 7 9
1374: 7 8 9
1377: 8 9
1380: 7 8
1383: 7 8 9
1386: 8 9
1389: 7 9
1392: 7 8 9
1395: 8 9
1398: 7 8
1401: 7 8 9
1404: 8 9
1407: 7 9
1410: 7 8 9
1413: 8 9
1416: 7 8
1419: 7 8 9
1422: 8 9
1425: 7 9
1427: 12
1428: 7 8 9
1431: 8 9
1434: 7 8 12
1437: 7 8 9
1439: 8 9
`;

// table text -> rows of numbers
function parseRows(table) {
  return table.trim().split('\n').map(line => {
    const [minute, readings] = line.split(':');
    return [Number(minute)].concat(readings.trim().split(/\s+/).map(Number));
  });
}
// rows -> [hour of day, travel time in minutes]
function toPoints(...tables) {
  const pts = [];
  tables.forEach(t => parseRows(t).forEach(r => {
    for (let i = 1; i < r.length; i++) pts.push([r[0] / 60, r[i] / 10]);
  }));
  return pts;
}

const FONT = '"Liberation Sans", Arial, Helvetica, sans-serif';
const X_MARK = 'path://M0,0L10,10M10,0L0,10';

const chart = echarts.init(document.getElementById('chart'), null, { renderer: 'canvas' });

const baseLine = { show: true, onZero: false, lineStyle: { color: '#000', width: 1 } };
const baseTick = { show: true, inside: true, length: 9, lineStyle: { color: '#333', width: 1 } };
const labelStyle = { color: '#000', fontSize: 15, fontFamily: FONT };

function hourAxis(gridIndex, position, withLabels) {
  return {
    type: 'value', gridIndex, position,
    min: hourTicks[0], max: hourTicks[hourTicks.length - 1], interval: hourTicks[1] - hourTicks[0],
    axisLine: baseLine, axisTick: baseTick, splitLine: { show: false },
    axisLabel: withLabels ? Object.assign({ show: true, margin: 7 }, labelStyle) : { show: false },
    name: withLabels ? 'Hour of Day' : '',
    nameLocation: 'middle', nameGap: 27,
    nameTextStyle: { color: '#000', fontSize: 15, fontFamily: FONT }
  };
}
function minuteAxis(gridIndex, position, withLabels) {
  return {
    type: 'value', gridIndex, position,
    min: minuteTicks[0], max: minuteTicks[minuteTicks.length - 1], interval: minuteTicks[1] - minuteTicks[0],
    axisLine: baseLine, axisTick: baseTick, splitLine: { show: false },
    axisLabel: withLabels ? Object.assign({ show: true, margin: 6 }, labelStyle) : { show: false },
    name: withLabels ? 'Travel Time (min)' : '',
    nameLocation: 'middle', nameGap: 27,
    nameTextStyle: { color: '#000', fontSize: 14, fontFamily: FONT }
  };
}

chart.setOption({
  animation: false,
  backgroundColor: '#fff',
  title: [
    { text: titleText, left: 542, top: 5, textAlign: 'center', padding: 0,
      textStyle: { fontSize: 17.6, fontWeight: 'normal', color: '#555', fontFamily: FONT } },
    { text: subtitleText, left: 535, top: 36, textAlign: 'center', padding: 0,
      textStyle: { fontSize: 15.7, fontWeight: 'normal', color: '#000', fontFamily: FONT } }
  ],
  grid: [
    { left: 55, right: 11, top: 61, height: 282 },
    { left: 55, right: 11, top: 363, height: 280 }
  ],
  xAxis: [hourAxis(0, 'bottom', false), hourAxis(0, 'top', false), hourAxis(1, 'bottom', true), hourAxis(1, 'top', false)],
  yAxis: [minuteAxis(0, 'left', true), minuteAxis(0, 'right', false), minuteAxis(1, 'left', true), minuteAxis(1, 'right', false)],
  legend: [
    { data: [{ name: 'BlueTooth', icon: X_MARK, itemStyle: { color: 'rgba(0,0,0,0)', borderColor: '#0000ff', borderWidth: 1.4 } }],
      left: 869, top: 69, itemWidth: 52, itemHeight: 7, padding: [5, 14, 5, 29], itemGap: 0,
      borderColor: '#000', borderWidth: 1, borderRadius: 0, backgroundColor: '#fff', selectedMode: false,
      textStyle: { color: '#000', fontSize: 15, fontFamily: FONT } },
    { data: [{ name: 'VPP', icon: 'circle', itemStyle: { color: 'rgba(0,0,0,0)', borderColor: '#ff0000', borderWidth: 1.4 } }],
      left: 910, top: 372, itemWidth: 50, itemHeight: 7, padding: [4, 10, 4, 29], itemGap: 0,
      borderColor: '#000', borderWidth: 1, borderRadius: 0, backgroundColor: '#fff', selectedMode: false,
      textStyle: { color: '#000', fontSize: 15, fontFamily: FONT } }
  ],
  series: [
    { name: 'BlueTooth', type: 'scatter', xAxisIndex: 0, yAxisIndex: 0,
      data: toPoints(blueNight, blueMorning, blueDay, blueEvening),
      symbol: X_MARK, symbolSize: 7.5, large: false, progressive: 0, silent: true, clip: true,
      itemStyle: { color: 'rgba(0,0,0,0)', borderColor: '#0000ff', borderWidth: 1.6 } },
    { name: 'VPP', type: 'scatter', xAxisIndex: 2, yAxisIndex: 2,
      data: toPoints(redNight, redMorning, redDay, redEvening),
      symbol: 'circle', symbolSize: 6.5, large: false, progressive: 0, silent: true, clip: true,
      itemStyle: { color: 'rgba(0,0,0,0)', borderColor: '#ff0000', borderWidth: 1.6 } }
  ]
});
</script>
</body>
</html>
